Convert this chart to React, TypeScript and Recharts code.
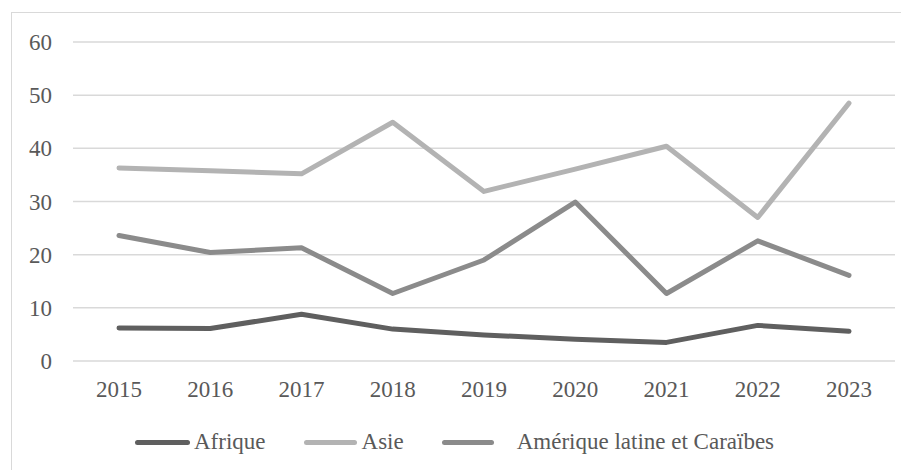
import { LineChart, Line, XAxis, YAxis, CartesianGrid, Legend } from 'recharts'

const annees = ['2015', '2016', '2017', '2018', '2019', '2020', '2021', '2022', '2023']
const afrique = [6.2, 6.1, 8.8, 6.0, 4.9, 4.1, 3.5, 6.7, 5.6]
const asie = [36.3, 35.8, 35.2, 44.9, 31.9, 36.1, 40.4, 27.0, 48.5]
const ameriqueLatine = [23.6, 20.4, 21.3, 12.7, 19.0, 29.9, 12.7, 22.6, 16.1]
const yTicks = [0, 10, 20, 30, 40, 50, 60]

const series = [
  { key: 'afrique', label: 'Afrique', color: '#5f5f5f', swatch: 55, gap: 4 },
  { key: 'asie', label: 'Asie', color: '#b3b3b3', swatch: 53, gap: 5 },
  { key: 'amerique', label: 'Amérique latine et Caraïbes', color: '#8b8b8b', swatch: 52, gap: 23 },
]

const data = annees.map((annee, i) => ({
  annee,
  afrique: afrique[i],
  asie: asie[i],
  amerique: ameriqueLatine[i],
}))

const font = '"Liberation Serif", "Times New Roman", serif'

function LegendContent() {
  return (
    <div style={{ display: 'flex', alignItems: 'center', height: 30, fontFamily: font, fontSize: 23, color: '#595959' }}>
      {series.map((s, i) => (
        <div key={s.key} style={{ display: 'flex', alignItems: 'center', marginRight: i < series.length - 1 ? 38 : 0 }}>
          <span style={{ display: 'inline-block', width: s.swatch, height: 5, borderRadius: 3, background: s.color }} />
          <span style={{ marginLeft: s.gap, whiteSpace: 'nowrap' }}>{s.label}</span>
        </div>
      ))}
    </div>
  )
}

export default function App() {
  return (
    <div
      style={{
        marginLeft: 3,
        marginTop: 4,
        width: 897,
        height: 457,
        borderLeft: '1px solid #d9d9d9',
        borderTop: '1px solid #d9d9d9',
        background: '#fff',
        overflow: 'hidden',
      }}
    >
      <LineChart width={897} height={457} data={data} margin={{ top: 29, right: 14, left: 0, bottom: 13 }}>
        <CartesianGrid vertical={false} stroke="#d9d9d9" strokeWidth={1.5} />
        <XAxis
          dataKey="annee"
          axisLine={false}
          tickLine={false}
          tickSize={0}
          tickMargin={20}
          height={66}
          interval={0}
          padding={{ left: 46, right: 46 }}
          tick={{ fontSize: 23, fill: '#595959', fontFamily: font }}
        />
        <YAxis
          domain={[0, 60]}
          ticks={yTicks}
          width={61}
          axisLine={false}
          tickLine={false}
          tickSize={0}
          tickMargin={21}
          tick={{ fontSize: 23, fill: '#595959', fontFamily: font }}
        />
        <Legend
          verticalAlign="bottom"
          height={30}
          content={<LegendContent />}
          wrapperStyle={{ left: 123, width: 'auto' }}
        />
        {series.map((s) => (
          <Line
            key={s.key}
            dataKey={s.key}
            name={s.label}
            type="linear"
            stroke={s.color}
            strokeWidth={5}
            strokeLinecap="round"
            strokeLinejoin="round"
            dot={false}
            activeDot={false}
            isAnimationActive={false}
          />
        ))}
      </LineChart>
    </div>
  )
}
